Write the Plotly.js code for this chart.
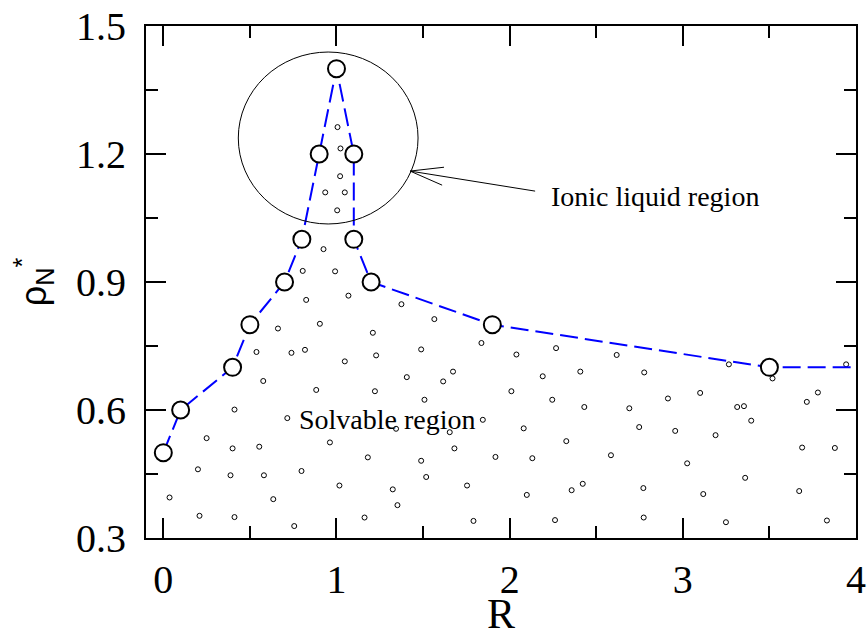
<!DOCTYPE html>
<html>
<head>
<meta charset="utf-8">
<script src="https://cdn.plot.ly/plotly-3.0.1.min.js"></script>
<style>
  html, body { margin: 0; padding: 0; background: #ffffff; }
  #chart { width: 868px; height: 637px; }
</style>
</head>
<body>
<div id="chart"></div>
<script>
// Boundary of the ionic liquid region: R versus reduced density rho_N*
var boundaryR   = [0.0, 0.1, 0.4, 0.5, 0.7, 0.8, 0.9, 1.0, 1.1, 1.1, 1.2, 1.9, 3.5];
var boundaryRho = [0.5, 0.6, 0.7, 0.8, 0.9, 1.0, 1.2, 1.4, 1.2, 1.0, 0.9, 0.8, 0.7];
// the dashed boundary keeps going flat past the last computed state
var tailR = [4.0];
var tailRho = [0.7];

// Sampled solvable states (small open circles)
var sampleR = [
  1.006, 1.023, 1.021, 0.935, 1.048, 1.004, 0.925, 0.805, 0.992,
  1.069, 0.825, 1.375, 1.565, 0.904, 0.662, 1.210, 0.538, 0.740, 0.818,
  1.489, 1.229, 1.048, 1.406, 0.577, 0.883, 1.222, 1.508, 0.411, 0.716,
  1.344, 0.250, 0.400, 0.554, 0.962, 1.181, 1.489, 0.200, 0.388, 0.581,
  0.798, 1.518, 1.017, 1.325, 0.036, 0.635, 1.352, 0.209, 0.411, 1.162,
  0.756,
  1.837, 2.039, 2.268, 2.618, 1.673, 1.616, 2.191, 2.408, 2.777, 3.266,
  3.518, 3.943, 2.010, 2.246, 2.431, 2.691, 2.914, 3.100, 3.314, 3.353,
  3.395, 3.716, 3.780, 1.845, 1.654, 2.081, 2.327, 2.748, 2.956, 3.189,
  3.689, 3.878, 1.681, 1.918, 2.131, 2.585, 3.025, 3.360, 1.754, 2.099,
  2.358, 2.422, 2.772, 3.118, 3.672, 1.791, 2.262, 2.774, 3.249, 3.832
];
var sampleRho = [
  1.263, 1.213, 1.148, 1.110, 1.110, 1.068, 0.977, 0.926, 0.925,
  0.868, 0.858, 0.848, 0.813, 0.802, 0.791, 0.781, 0.736, 0.734, 0.741,
  0.742, 0.728, 0.714, 0.677, 0.668, 0.647, 0.644, 0.624, 0.601, 0.581,
  0.556, 0.534, 0.510, 0.514, 0.524, 0.489, 0.481, 0.461, 0.447, 0.447,
  0.457, 0.443, 0.423, 0.414, 0.395, 0.391, 0.377, 0.352, 0.349, 0.348,
  0.328,
  0.757, 0.730, 0.745, 0.729, 0.690, 0.667, 0.679, 0.690, 0.688, 0.707,
  0.674, 0.707, 0.644, 0.624, 0.607, 0.604, 0.627, 0.640, 0.607, 0.609,
  0.575, 0.619, 0.641, 0.577, 0.548, 0.557, 0.527, 0.560, 0.551, 0.541,
  0.512, 0.511, 0.510, 0.490, 0.487, 0.494, 0.475, 0.441, 0.423, 0.401,
  0.412, 0.427, 0.417, 0.403, 0.410, 0.340, 0.342, 0.348, 0.337, 0.341
];

var xTickVals = [0, 1, 2, 3, 4];
var xTickText = ['0', '1', '2', '3', '4'];
var yTickVals = [0.3, 0.6, 0.9, 1.2, 1.5];
var yTickText = ['0.3', '0.6', '0.9', '1.2', '1.5'];

var serif = 'Liberation Serif, Times New Roman, serif';

var traces = [
  {
    x: sampleR, y: sampleRho, type: 'scatter', mode: 'markers',
    marker: { symbol: 'circle-open', size: 5, color: '#000000', line: { width: 1, color: '#000000' } },
    hoverinfo: 'skip', showlegend: false
  },
  {
    x: boundaryR.concat(tailR), y: boundaryRho.concat(tailRho),
    type: 'scatter', mode: 'lines',
    line: { color: '#0000ff', width: 2, dash: '18px,7px' },
    hoverinfo: 'skip', showlegend: false
  },
  {
    x: boundaryR, y: boundaryRho, type: 'scatter', mode: 'markers',
    marker: { symbol: 'circle', size: 17, color: '#ffffff', line: { width: 2, color: '#000000' } },
    showlegend: false
  }
];

var axisCommon = {
  showgrid: false, zeroline: false,
  showline: true, linecolor: '#000000', linewidth: 2,
  mirror: 'allticks',
  ticks: 'inside', ticklen: 20, tickwidth: 2, tickcolor: '#000000',
  tickfont: { family: serif, size: 40, color: '#000000' }
};

var layout = {
  width: 868, height: 637,
  margin: { l: 146, r: 12, t: 26, b: 99 },
  paper_bgcolor: '#ffffff', plot_bgcolor: '#ffffff',
  showlegend: false,
  xaxis: Object.assign({}, axisCommon, {
    range: [-0.1, 4],
    tickmode: 'array', tickvals: xTickVals, ticktext: xTickText,
    ticklabelstandoff: 5,
    minor: { tick0: 0, dtick: 0.5, ticks: 'inside', ticklen: 12, tickwidth: 2, tickcolor: '#000000', showgrid: false },
    title: { text: 'R', font: { family: serif, size: 42, color: '#000000' }, standoff: 9 }
  }),
  yaxis: Object.assign({}, axisCommon, {
    range: [0.3, 1.5],
    tickmode: 'array', tickvals: yTickVals, ticktext: yTickText,
    ticklabelstandoff: 10,
    minor: { tick0: 0, dtick: 0.15, ticks: 'inside', ticklen: 12, tickwidth: 2, tickcolor: '#000000', showgrid: false },
    title: { text: 'ρ<sub>N</sub><sup>*</sup>', font: { family: 'Liberation Sans, Arial, sans-serif', size: 36, color: '#000000' }, standoff: 18 }
  }),
  shapes: [
    {
      type: 'circle', xref: 'x', yref: 'y',
      x0: 0.433, x1: 1.471, y0: 1.036, y1: 1.439,
      line: { color: '#000000', width: 1 }, layer: 'above'
    },
    {
      type: 'path', xref: 'x', yref: 'y',
      path: 'M 2.147,1.113 L 1.425,1.160 M 1.621,1.169 L 1.425,1.160 L 1.610,1.127',
      line: { color: '#000000', width: 1 }
    }
  ],
  annotations: [
    {
      x: 2.839, y: 1.100, xref: 'x', yref: 'y', showarrow: false,
      text: 'Ionic liquid region',
      font: { family: serif, size: 28, color: '#000000' }
    },
    {
      x: 1.293, y: 0.577, xref: 'x', yref: 'y', showarrow: false,
      text: 'Solvable region',
      font: { family: serif, size: 28, color: '#000000' }
    }
  ]
};

Plotly.newPlot('chart', traces, layout, { staticPlot: true, displayModeBar: false });
</script>
</body>
</html>
